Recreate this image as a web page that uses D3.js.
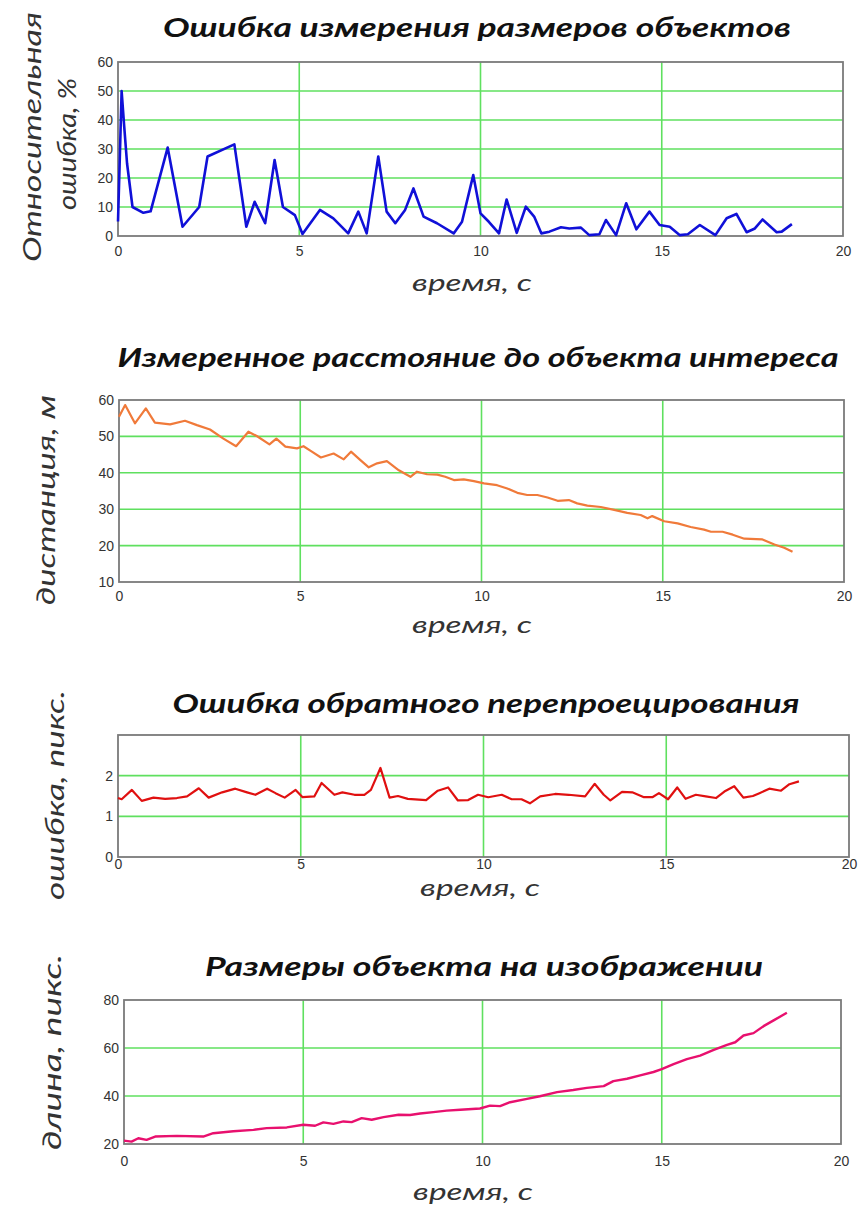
<!DOCTYPE html>
<html><head><meta charset="utf-8">
<script src="https://cdn.jsdelivr.net/npm/d3@7"></script>
<style>
html,body{margin:0;padding:0;background:#fff;}
svg{display:block;}
</style></head>
<body>
<svg id="chart" width="866" height="1205"></svg>
<script>
// ---------- DATA ----------
const xTicks = [0, 5, 10, 15, 20];
const xLabel = "время, с";

const titles = [
  "Ошибка измерения  размеров объектов",
  "Измеренное расстояние до объекта интереса",
  "Ошибка обратного перепроецирования",
  "Размеры объекта на изображении"
];

const yLabels = [
  ["Относительная", "ошибка, %"],
  ["дистанция, м"],
  ["ошибка, пикс."],
  ["длина, пикс."]
];

const yTicks1 = [0, 10, 20, 30, 40, 50, 60];
const yTicks2 = [10, 20, 30, 40, 50, 60];
const yTicks3 = [0, 1, 2];
const yTicks4 = [20, 40, 60, 80];

// Относительная ошибка, %
const err_t = [0, 0.05, 0.1, 0.17, 0.25, 0.4, 0.7, 0.9, 1.37, 1.78, 2.24, 2.47, 3.21, 3.54, 3.77, 4.06, 4.32, 4.55, 4.88, 5.09, 5.57, 5.94, 6.35, 6.63, 6.86, 7.18, 7.41, 7.65, 7.92, 8.15, 8.43, 8.8, 9.26, 9.49, 9.8, 10.0, 10.23, 10.51, 10.72, 11.0, 11.25, 11.48, 11.68, 11.9, 12.22, 12.45, 12.77, 13.0, 13.28, 13.46, 13.74, 14.02, 14.3, 14.66, 14.94, 15.22, 15.5, 15.72, 16.05, 16.48, 16.79, 17.06, 17.34, 17.57, 17.78, 18.17, 18.31, 18.59];
const err_v = [5, 27, 50, 38, 25, 10, 8, 8.5, 30.5, 3.2, 10, 27.4, 31.6, 3.2, 11.8, 4.4, 26.2, 10, 7.2, 0.7, 9, 6.1, 0.9, 8.4, 0.9, 27.4, 8.4, 4.4, 9, 16.4, 6.7, 4.4, 0.9, 4.9, 21, 7.8, 4.9, 0.9, 12.6, 1.1, 10.1, 6.7, 0.9, 1.5, 3, 2.6, 2.9, 0.3, 0.6, 5.5, 0.3, 11.3, 2.3, 8.4, 3.8, 3.2, 0.3, 0.6, 3.8, 0.3, 6.1, 7.6, 1.3, 2.6, 5.7, 1.3, 1.5, 4.1];

// дистанция, м
const dist_t = [0, 0.17, 0.44, 0.74, 0.99, 1.41, 1.82, 2.15, 2.51, 2.88, 3.23, 3.57, 3.8, 4.15, 4.34, 4.59, 4.91, 5.09, 5.32, 5.57, 5.92, 6.2, 6.4, 6.66, 6.89, 7.12, 7.39, 7.72, 8.04, 8.22, 8.5, 8.78, 9.0, 9.24, 9.51, 9.79, 10.07, 10.43, 10.71, 10.99, 11.26, 11.54, 11.82, 12.1, 12.41, 12.64, 12.92, 13.29, 13.66, 14.02, 14.39, 14.58, 14.71, 15.04, 15.41, 15.77, 16.14, 16.33, 16.65, 16.93, 17.25, 17.75, 18.08, 18.35, 18.58];
const dist_v = [55.4, 58.6, 53.6, 57.7, 53.8, 53.3, 54.3, 53.1, 51.9, 49.4, 47.3, 51.3, 50.1, 47.8, 49.4, 47.2, 46.7, 47.3, 45.8, 44.2, 45.3, 43.7, 45.8, 43.5, 41.5, 42.6, 43.2, 40.7, 38.9, 40.3, 39.6, 39.5, 38.9, 38.0, 38.2, 37.7, 37.1, 36.6, 35.7, 34.5, 33.9, 33.9, 33.2, 32.3, 32.5, 31.6, 31.0, 30.6, 29.8, 29.0, 28.4, 27.5, 28.1, 26.7, 26.1, 25.1, 24.4, 23.8, 23.8, 23.0, 21.9, 21.7, 20.3, 19.4, 18.3];

// ошибка перепроецирования, пикс.
const rep_t = [0, 0.1, 0.38, 0.65, 0.97, 1.29, 1.61, 1.89, 2.21, 2.48, 2.85, 3.21, 3.53, 3.76, 4.08, 4.31, 4.56, 4.86, 5.05, 5.37, 5.57, 5.92, 6.14, 6.47, 6.74, 6.92, 7.18, 7.43, 7.66, 7.93, 8.43, 8.75, 9.03, 9.3, 9.58, 9.85, 10.13, 10.5, 10.77, 11.04, 11.27, 11.55, 11.96, 12.33, 12.78, 13.04, 13.29, 13.47, 13.79, 14.07, 14.39, 14.62, 14.8, 15.05, 15.3, 15.53, 15.81, 16.08, 16.36, 16.59, 16.86, 17.11, 17.37, 17.55, 17.82, 18.14, 18.37, 18.63];
const rep_v = [1.45, 1.42, 1.65, 1.38, 1.46, 1.43, 1.45, 1.49, 1.69, 1.46, 1.59, 1.68, 1.59, 1.53, 1.68, 1.57, 1.46, 1.65, 1.47, 1.49, 1.82, 1.53, 1.59, 1.53, 1.53, 1.65, 2.19, 1.46, 1.5, 1.43, 1.4, 1.63, 1.71, 1.39, 1.40, 1.53, 1.47, 1.53, 1.42, 1.42, 1.32, 1.49, 1.55, 1.53, 1.49, 1.8, 1.53, 1.39, 1.6, 1.59, 1.47, 1.47, 1.57, 1.42, 1.71, 1.43, 1.53, 1.49, 1.45, 1.61, 1.74, 1.46, 1.5, 1.57, 1.68, 1.63, 1.79, 1.86];

// длина, пикс.
const len_t = [0, 0.21, 0.4, 0.63, 0.87, 1.47, 2.21, 2.49, 3.05, 3.61, 3.98, 4.54, 5.0, 5.33, 5.56, 5.84, 6.12, 6.35, 6.63, 6.91, 7.24, 7.66, 7.98, 8.26, 8.63, 9.0, 9.38, 9.93, 10.21, 10.49, 10.77, 11.24, 11.6, 12.08, 12.53, 12.91, 13.38, 13.65, 14.03, 14.4, 14.77, 15.0, 15.33, 15.7, 16.07, 16.45, 16.82, 17.05, 17.28, 17.56, 17.84, 18.12, 18.49];
const len_v = [21.4, 21.0, 22.4, 21.7, 23.1, 23.4, 23.1, 24.5, 25.3, 25.9, 26.6, 26.9, 28.0, 27.6, 29.0, 28.4, 29.4, 29.1, 30.8, 30.1, 31.2, 32.2, 32.1, 32.7, 33.3, 33.9, 34.3, 34.8, 36.0, 35.8, 37.4, 38.8, 39.9, 41.6, 42.5, 43.4, 44.1, 46.2, 47.2, 48.6, 50.0, 51.2, 53.3, 55.4, 56.8, 59.2, 61.3, 62.4, 65.2, 66.2, 69.1, 71.5, 74.7];

// ---------- LAYOUT ----------
const panels = [
  {t: err_t, v: err_v, yDomain: [0, 60], yTicks: yTicks1, color: "#1010d8", width: 2.6, pad: 10,
   box: {l: 118, r: 843, t: 62, b: 236}, title: {x: 477, y: 37, len: 628},
   xlab: {x: 472, y: 291}, ylab: [{x: 41, y: 137, len: 250}, {x: 76, y: 144, len: 132}]},
  {t: dist_t, v: dist_v, yDomain: [10, 60], yTicks: yTicks2, color: "#f07a3a", width: 2.2, pad: 9,
   box: {l: 119, r: 844, t: 400, b: 582}, title: {x: 478, y: 367, len: 721},
   xlab: {x: 472, y: 633}, ylab: [{x: 55, y: 500, len: 210}]},
  {t: rep_t, v: rep_v, yDomain: [0, 3], yTicks: yTicks3, color: "#e01010", width: 2.2, pad: 2,
   box: {l: 118, r: 849, t: 735, b: 857}, title: {x: 486, y: 713, len: 627},
   xlab: {x: 480, y: 896}, ylab: [{x: 64, y: 795, len: 210}]},
  {t: len_t, v: len_v, yDomain: [20, 80], yTicks: yTicks4, color: "#e8106e", width: 2.4, pad: 12,
   box: {l: 124, r: 841, t: 1000, b: 1144}, title: {x: 484, y: 976, len: 558},
   xlab: {x: 473, y: 1200}, ylab: [{x: 61, y: 1052, len: 196}]}
];

const svg = d3.select("#chart");
const titleFont = "Lato, 'Open Sans', 'DejaVu Sans', sans-serif";
const tickFont = "'Liberation Sans', Arial, sans-serif";

panels.forEach((p, i) => {
  const x = d3.scaleLinear().domain([0, 20]).range([p.box.l, p.box.r]);
  const y = d3.scaleLinear().domain(p.yDomain).range([p.box.b, p.box.t]);
  const g = svg.append("g");

  // grid
  g.selectAll("line.vg").data(xTicks.filter(d => d > 0 && d < 20)).join("line")
    .attr("x1", d => x(d)).attr("x2", d => x(d))
    .attr("y1", p.box.t).attr("y2", p.box.b)
    .attr("stroke", "#5fe05f").attr("stroke-width", 1.6);
  g.selectAll("line.hg").data(p.yTicks.filter(d => d > p.yDomain[0] && d < p.yDomain[1])).join("line")
    .attr("x1", p.box.l).attr("x2", p.box.r)
    .attr("y1", d => y(d)).attr("y2", d => y(d))
    .attr("stroke", "#5fe05f").attr("stroke-width", 1.6);

  // axes (tick labels only)
  const xa = g.append("g").attr("transform", `translate(0,${p.box.b})`)
    .call(d3.axisBottom(x).tickValues(xTicks).tickFormat(d3.format("d")).tickSize(0).tickPadding(p.pad));
  const ya = g.append("g").attr("transform", `translate(${p.box.l},0)`)
    .call(d3.axisLeft(y).tickValues(p.yTicks).tickFormat(d3.format("d")).tickSize(0).tickPadding(5));
  [xa, ya].forEach(a => {
    a.select(".domain").remove();
    a.selectAll("text").attr("font-family", tickFont).attr("font-size", 14).attr("fill", "#333");
  });

  // frame
  g.append("rect").attr("x", p.box.l).attr("y", p.box.t)
    .attr("width", p.box.r - p.box.l).attr("height", p.box.b - p.box.t)
    .attr("fill", "none").attr("stroke", "#7a7a7a").attr("stroke-width", 1.8);

  // line
  const pts = p.t.map((t, k) => [t, p.v[k]]);
  g.append("path").datum(pts)
    .attr("d", d3.line().x(d => x(d[0])).y(d => y(d[1])))
    .attr("fill", "none").attr("stroke", p.color).attr("stroke-width", p.width)
    .attr("stroke-linejoin", "round");

  // title
  g.append("text").attr("x", p.title.x).attr("y", p.title.y)
    .attr("text-anchor", "middle").attr("font-family", titleFont)
    .attr("font-weight", "bold").attr("font-style", "italic").attr("font-size", 26)
    .attr("textLength", p.title.len).attr("lengthAdjust", "spacingAndGlyphs")
    .attr("fill", "#111").text(titles[i]);

  // x label
  g.append("text").attr("x", p.xlab.x).attr("y", p.xlab.y)
    .attr("text-anchor", "middle").attr("font-family", titleFont)
    .attr("font-style", "italic").attr("font-size", 23)
    .attr("textLength", 120).attr("lengthAdjust", "spacingAndGlyphs")
    .attr("fill", "#333").text(xLabel);

  // y label(s)
  yLabels[i].forEach((lab, j) => {
    const q = p.ylab[j];
    g.append("text").attr("transform", `translate(${q.x},${q.y}) rotate(-90)`)
      .attr("text-anchor", "middle").attr("font-family", titleFont)
      .attr("font-style", "italic").attr("font-size", 25)
      .attr("textLength", q.len).attr("lengthAdjust", "spacingAndGlyphs")
      .attr("fill", "#333").text(lab);
  });
});
</script>
</body></html>
